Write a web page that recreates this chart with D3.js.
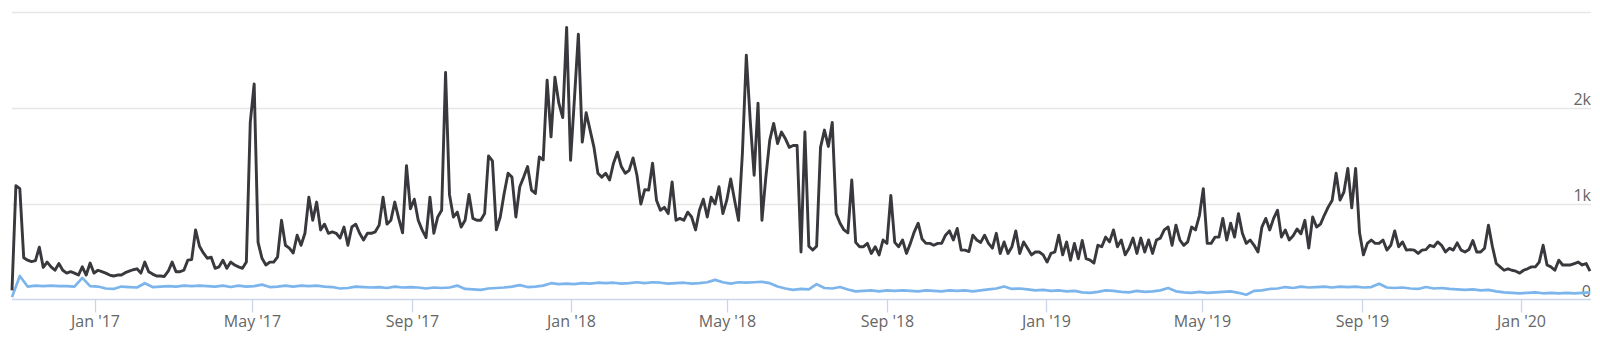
<!DOCTYPE html>
<html><head><meta charset="utf-8">
<script src="https://cdn.jsdelivr.net/npm/d3@7"></script>
<style>html,body{margin:0;padding:0;background:#fff;} svg{display:block;}</style>
</head><body>
<svg id="chart" width="1600" height="338"></svg>
<script>
// ---- data ----
const startDate = "2016-10-29";
const endDate = "2020-02-23";
const darkStepDays = 3;
const darkValues = [
100,1190,1160,440,415,400,410,550,340,395,
345,310,380,310,280,295,280,260,345,260,
385,280,310,295,280,260,250,260,260,285,
300,315,325,280,395,295,270,250,250,245,
300,395,295,295,310,415,420,730,560,490,
435,445,330,345,415,330,395,365,345,330,
395,1850,2250,600,435,365,395,395,450,830,
570,540,490,675,570,695,1070,830,1020,730,
790,695,710,695,645,760,570,760,790,695,
625,695,695,710,780,1070,790,830,1020,850,
700,1400,950,1050,830,730,650,1070,695,865,
935,2370,1100,865,915,760,830,1100,850,830,
830,900,1500,1450,730,865,1110,1320,1280,865,
1180,1280,1390,1145,1110,1490,1460,2290,1700,2320,
2050,1900,2840,1455,2100,2770,1645,1950,1770,1590,
1320,1280,1320,1250,1425,1540,1390,1320,1350,1480,
1300,1000,1150,1145,1425,1040,935,965,900,1230,
830,850,830,915,865,730,935,1050,865,1070,
1000,1180,900,1040,1260,1040,830,1530,2550,1870,
1300,2050,830,1280,1665,1840,1630,1750,1680,1590,
1610,1610,500,1750,560,520,560,1590,1770,1600,
1850,900,800,730,700,1250,600,555,555,590,
485,555,470,625,590,1090,600,555,625,485,
590,710,800,635,590,590,570,590,590,675,
720,625,745,520,520,505,675,625,600,675,
590,540,695,485,605,485,555,720,485,605,
540,470,500,500,470,395,485,500,675,470,
605,415,590,430,620,430,415,385,570,555,
655,605,730,555,625,470,540,645,485,645,
500,625,485,625,645,730,760,570,780,625,
570,605,760,730,880,1160,590,590,655,655,
850,625,800,655,900,695,590,625,570,500,
760,850,730,850,935,655,730,625,670,740,
690,830,540,865,760,790,885,970,1040,1320,
1040,1125,1370,960,1370,700,470,590,625,590,
590,625,520,570,720,555,605,520,525,520,
485,520,525,570,555,605,570,500,540,520,
595,520,500,525,620,500,500,540,780,560,
380,345,310,325,310,300,280,310,325,345,
345,395,570,365,345,310,415,365,365,365,
380,395,365,380,300
];
const blueStepDays = 6;
const blueValues = [
30,250,140,150,145,150,145,145,140,230,
145,140,120,115,140,135,130,175,135,140,
145,140,150,145,150,145,140,150,135,150,
140,145,160,135,140,150,140,150,145,150,
140,135,120,125,140,135,130,135,125,140,
130,135,130,120,130,125,130,150,115,110,
105,120,125,130,140,155,135,140,150,175,
165,170,165,175,170,180,175,180,170,175,
185,175,185,180,170,175,180,170,175,185,
210,185,170,185,180,185,190,175,140,120,
105,115,110,165,125,120,135,110,90,95,
100,90,100,95,100,95,90,100,95,90,
100,95,100,90,100,110,120,140,115,120,
110,100,105,95,100,90,95,80,75,85,
100,95,85,80,95,85,90,100,125,90,
80,75,85,75,80,85,90,75,55,95,
100,115,120,135,125,140,130,135,140,130,
140,135,140,130,135,170,130,125,130,120,
115,135,120,125,115,110,105,110,100,105,
90,80,75,70,75,80,70,75,70,75,
70,75,80
];
const yTicks = [0, 1000, 2000, 3000];
const yTickLabels = ["0", "1k", "2k", ""];
const xTickDates = ["2017-01-01","2017-05-01","2017-09-01","2018-01-01","2018-05-01","2018-09-01","2019-01-01","2019-05-01","2019-09-01","2020-01-01"];
const xTickLabels = ["Jan '17","May '17","Sep '17","Jan '18","May '18","Sep '18","Jan '19","May '19","Sep '19","Jan '20"];

// ---- layout ----
const plotLeft = 12, plotRight = 1591, plotTop = 12, plotBottom = 300;
const svg = d3.select("#chart");
const parse = d3.utcParse("%Y-%m-%d");
const t0 = parse(startDate), t1 = parse(endDate);

const x = d3.scaleUtc().domain([t0, t1]).range([plotLeft, 1590]);
const y = d3.scaleLinear().domain([0, 3000]).range([plotBottom, plotTop]);

const darkData = darkValues.map((v, i) => ({ date: d3.utcDay.offset(t0, i * darkStepDays), v }));
const blueData = blueValues.map((v, i) => ({ date: d3.utcDay.offset(t0, i * blueStepDays), v }));

// gridlines
const grid = svg.append("g");
yTicks.forEach(t => {
  if (t === 0) return;
  const yy = Math.round(y(t)) + 0.5;
  grid.append("line").attr("x1", plotLeft).attr("x2", plotRight)
    .attr("y1", yy).attr("y2", yy).attr("stroke", "#e6e6e6").attr("stroke-width", 1.3);
});

// y labels
const ylab = svg.append("g").attr("font-family", "'Open Sans', sans-serif")
  .attr("font-size", "16px").attr("fill", "#666666").attr("text-anchor", "end");
yTicks.forEach((t, i) => {
  if (!yTickLabels[i]) return;
  ylab.append("text").attr("x", plotRight).attr("y", y(t) - 3).text(yTickLabels[i]);
});

// x axis
const axisY = Math.round(y(0)) - 0.5;
svg.append("line").attr("x1", plotLeft).attr("x2", plotRight).attr("y1", axisY).attr("y2", axisY)
  .attr("stroke", "#ccd6eb").attr("stroke-width", 1.3);
const xg = svg.append("g");
xTickDates.forEach((ds, i) => {
  const xx = Math.round(x(parse(ds))) + 0.5;
  xg.append("line").attr("x1", xx).attr("x2", xx).attr("y1", axisY).attr("y2", axisY + 13)
    .attr("stroke", "#ccd6eb").attr("stroke-width", 1.3);
  xg.append("text").attr("x", xx).attr("y", 327).attr("text-anchor", "middle")
    .attr("font-family", "'Open Sans', sans-serif").attr("font-size", "16px").attr("fill", "#666666")
    .text(xTickLabels[i]);
});

// series
const line = d3.line().x(d => x(d.date)).y(d => y(d.v));
svg.append("path").datum(blueData).attr("d", line).attr("fill", "none")
  .attr("stroke", "#7cb5ec").attr("stroke-width", 2.7).attr("stroke-linejoin", "round");
svg.append("path").datum(darkData).attr("d", line).attr("fill", "none")
  .attr("stroke", "#38383d").attr("stroke-width", 2.9).attr("stroke-linejoin", "round");
</script>
</body></html>
